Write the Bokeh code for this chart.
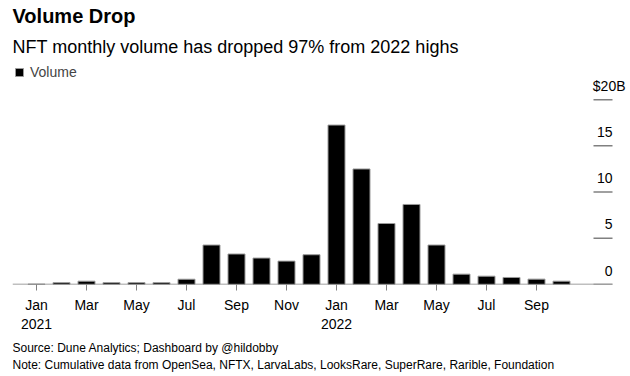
from bokeh.plotting import figure
from bokeh.models import Range1d, Title, FixedTicker, Legend, LegendItem, ColumnDataSource
from bokeh.core.properties import value
from bokeh.embed import file_html
from bokeh.resources import INLINE

months = ["Jan 2021", "Feb 2021", "Mar 2021", "Apr 2021", "May 2021", "Jun 2021",
          "Jul 2021", "Aug 2021", "Sep 2021", "Oct 2021", "Nov 2021", "Dec 2021",
          "Jan 2022", "Feb 2022", "Mar 2022", "Apr 2022", "May 2022", "Jun 2022",
          "Jul 2022", "Aug 2022", "Sep 2022", "Oct 2022"]
volume = [0.05, 0.2, 0.36, 0.2, 0.2, 0.2, 0.57, 4.27, 3.3, 2.86, 2.53, 3.22,
          17.25, 12.5, 6.6, 8.66, 4.27, 1.12, 0.9, 0.76, 0.58, 0.36]
x_tick_pos = [0, 2, 4, 6, 8, 10, 12, 14, 16, 18, 20]
x_tick_labels = ["Jan\n2021", "Mar", "May", "Jul", "Sep", "Nov", "Jan\n2022",
                 "Mar", "May", "Jul", "Sep"]
y_ticks = [0, 5, 10, 15, 20]
y_tick_labels = ["0", "5", "10", "15", "$20B"]

FONT = "Liberation Sans"

idx = list(range(len(months)))
src = ColumnDataSource(dict(x=idx, top=volume, month=months))

PX = 25.0                      # pixels per month slot
X0 = -0.96                     # left end of the baseline
XT = 23.04                     # right end of baseline / y tick marks
X1 = XT + 14 / PX              # frame extends a bit so "$20B" can overhang
p = figure(width=630, height=376, output_backend="svg", toolbar_location=None,
           title=None,
           x_range=Range1d(X0, X1), y_range=Range1d(0, 24.02),
           min_border_left=12, min_border_right=4, min_border_top=0, min_border_bottom=92)
p.outline_line_color = None
p.grid.visible = False
p.background_fill_color = "white"
p.yaxis.visible = False

bars = p.vbar(x="x", top="top", width=0.68, source=src,
              fill_color="black", line_color="#9a9a9a", line_width=1)

# x axis (its own line hidden; baseline drawn only up to XT)
xa = p.xaxis[0]
xa.ticker = FixedTicker(ticks=x_tick_pos)
xa.major_label_overrides = {t: l for t, l in zip(x_tick_pos, x_tick_labels)}
xa.minor_tick_line_color = None
xa.axis_line_color = None
xa.major_tick_line_color = "#808080"
xa.major_tick_in = 0
xa.major_tick_out = 6
xa.major_label_standoff = 6
xa.major_label_text_font = FONT
xa.major_label_text_font_size = "14px"
xa.major_label_text_color = "black"

p.segment(x0=[X0], x1=[XT], y0=[0], y1=[0], line_color="#808080", line_width=1.5)

# y ticks: short lines at the right edge, labels above them
tick_len = 19 / PX
p.segment(x0=[XT - tick_len] * len(y_ticks), x1=[XT] * len(y_ticks),
          y0=y_ticks, y1=y_ticks, line_color="#808080", line_width=1.5)
ysrc = ColumnDataSource(dict(x=[XT] * len(y_ticks), y=y_ticks, text=y_tick_labels,
                             xo=[0, 0, 0, 0, 13]))
p.text(x="x", y="y", text="text", x_offset="xo", source=ysrc,
       text_align="right", text_baseline="alphabetic", y_offset=-14,
       text_font=value(FONT), text_font_size="14px", text_color="black")

legend = Legend(items=[LegendItem(label="Volume", renderers=[bars])],
                location="top_left", margin=2, padding=0, spacing=0,
                glyph_width=10, glyph_height=10, label_height=10,
                label_standoff=6, border_line_color=None,
                background_fill_alpha=0,
                label_text_font=FONT, label_text_font_size="14px")
p.add_layout(legend)

def title(txt, size, side, standoff, bold=False):
    p.add_layout(Title(text=txt, text_font=FONT, text_font_size=size,
                       text_font_style="bold" if bold else "normal",
                       text_color="black", align="left", offset=0,
                       standoff=standoff), side)

title("NFT monthly volume has dropped 97% from 2022 highs", "18px", "above", 11)
title("Volume Drop", "20px", "above", 5, True)
title("Source: Dune Analytics; Dashboard by @hildobby", "12px", "below", 8)
title("Note: Cumulative data from OpenSea, NFTX, LarvaLabs, LooksRare, SuperRare, Rarible, Foundation",
      "12px", "below", -5)

open("out.html", "w").write(file_html(p, INLINE))
